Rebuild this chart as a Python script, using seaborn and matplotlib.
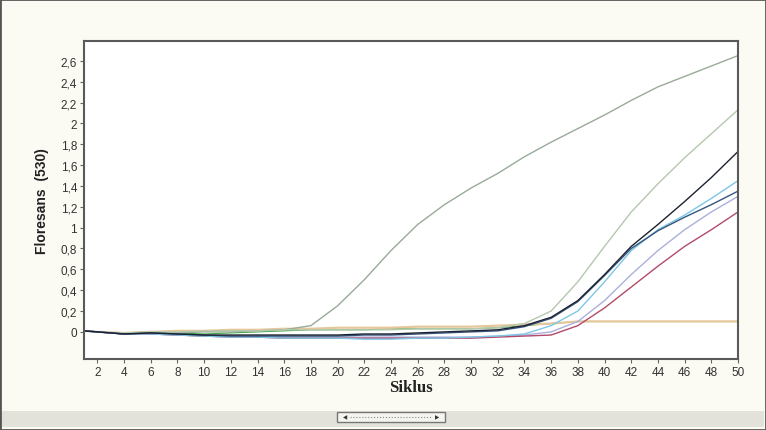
import numpy as np
import pandas as pd
import matplotlib
matplotlib.use("Agg")
import matplotlib.pyplot as plt
from matplotlib.patches import Rectangle
from matplotlib.lines import Line2D
import seaborn as sns

cycles = [1, 2, 4, 6, 8, 10, 12, 14, 16, 18, 20, 22, 24, 26, 28, 30, 32, 34, 36, 38, 40, 42, 44, 46, 48, 50]

s_early = [0.01, 0.00, -0.02, -0.01, -0.01, 0.00, 0.00, 0.01, 0.02, 0.06, 0.25, 0.50, 0.78, 1.03, 1.22, 1.38, 1.52, 1.68, 1.82, 1.95, 2.08, 2.22, 2.35, 2.45, 2.55, 2.65]
s_lightgreen = [0.01, 0.00, -0.01, 0.00, 0.00, 0.01, 0.01, 0.01, 0.02, 0.02, 0.02, 0.02, 0.02, 0.03, 0.03, 0.03, 0.04, 0.08, 0.20, 0.48, 0.82, 1.15, 1.42, 1.67, 1.90, 2.13]
s_black = [0.01, 0.00, -0.02, -0.01, -0.02, -0.03, -0.03, -0.03, -0.03, -0.03, -0.03, -0.02, -0.02, -0.01, 0.00, 0.01, 0.02, 0.06, 0.14, 0.30, 0.55, 0.82, 1.03, 1.25, 1.48, 1.73]
s_darkblue = [0.01, 0.00, -0.02, -0.01, -0.02, -0.03, -0.04, -0.04, -0.04, -0.04, -0.04, -0.03, -0.03, -0.02, -0.01, 0.00, 0.01, 0.05, 0.13, 0.29, 0.54, 0.80, 0.97, 1.10, 1.22, 1.35]
s_lightblue = [0.01, 0.00, -0.02, -0.02, -0.03, -0.04, -0.05, -0.05, -0.06, -0.06, -0.06, -0.07, -0.07, -0.06, -0.06, -0.05, -0.04, -0.02, 0.06, 0.20, 0.48, 0.78, 0.98, 1.12, 1.28, 1.45]
s_lavender = [0.01, 0.00, -0.02, -0.02, -0.03, -0.04, -0.04, -0.05, -0.05, -0.05, -0.05, -0.05, -0.05, -0.05, -0.05, -0.05, -0.04, -0.03, 0.00, 0.10, 0.30, 0.55, 0.78, 0.98, 1.15, 1.30]
s_maroon = [0.01, 0.00, -0.02, -0.02, -0.03, -0.04, -0.05, -0.05, -0.06, -0.06, -0.06, -0.06, -0.06, -0.06, -0.06, -0.06, -0.05, -0.04, -0.03, 0.06, 0.23, 0.43, 0.63, 0.82, 0.98, 1.15]
s_tan = [0.01, 0.00, -0.01, 0.00, 0.01, 0.01, 0.02, 0.02, 0.03, 0.03, 0.04, 0.04, 0.04, 0.05, 0.05, 0.05, 0.06, 0.07, 0.08, 0.10, 0.10, 0.10, 0.10, 0.10, 0.10, 0.10]
s_green = [0.01, 0.00, -0.02, -0.01, -0.01, -0.02, -0.01, 0.00, 0.01, 0.02, 0.02, 0.02, 0.03, 0.03, 0.03, 0.03, 0.04, 0.06, 0.08, 0.10, 0.10, 0.10, 0.10, 0.10, 0.10, 0.10]

series = {
    "C": s_green, "D": s_tan, "A": s_early, "B": s_lightgreen, "E": s_lavender,
    "F": s_maroon, "G": s_lightblue, "H": s_darkblue, "I": s_black,
}
palette = {
    "A": "#98ab98", "B": "#b4c8ae", "C": "#3fa845", "D": "#e6c79c", "E": "#aab0dc",
    "F": "#b24a6a", "G": "#7cc6e6", "H": "#35557f", "I": "#1c2230",
}
widths = {"C": 0.8, "D": 1.6}

yticks = [0, 0.2, 0.4, 0.6, 0.8, 1, 1.2, 1.4, 1.6, 1.8, 2, 2.2, 2.4, 2.6]
ytick_labels = ["0", "0,2", "0,4", "0,6", "0,8", "1", "1,2", "1,4", "1,6", "1,8", "2", "2,2", "2,4", "2,6"]
xticks = list(range(2, 51, 2))

sns.set_theme(style="white")
W, H = 766, 431
fig = plt.figure(figsize=(W / 100, H / 100), dpi=100)
fig.patch.set_facecolor("#fbfbf3")

# outer frame and bottom strip
fig.add_artist(Rectangle((0, 0), 1, 1, transform=fig.transFigure, fill=False,
                         edgecolor="#555555", linewidth=2))
fig.add_artist(Rectangle((2 / W, 3 / H), 1 - 4 / W, 16 / H, transform=fig.transFigure,
                         facecolor="#e2e1da", edgecolor="none"))
fig.add_artist(Rectangle((337 / W, 8 / H), 108 / W, 10 / H, transform=fig.transFigure,
                         facecolor="#f4f4f0", edgecolor="#777777", linewidth=1))
fig.text(343 / W, 13 / H, "\u25c0", fontsize=4, color="#333333", va="center", ha="left")
fig.text(439 / W, 13 / H, "\u25b6", fontsize=4, color="#333333", va="center", ha="right")
fig.add_artist(Line2D([350 / W, 432 / W], [13 / H, 13 / H], transform=fig.transFigure,
                      color="#888888", linewidth=0.8, linestyle=":"))

ax = fig.add_axes([84 / W, (H - 360) / H, (738 - 84) / W, (360 - 42) / H])
ax.set_facecolor("white")
for name, vals in series.items():
    d = pd.DataFrame({"Siklus": cycles, "val": vals})
    sns.lineplot(data=d, x="Siklus", y="val", color=palette[name], ax=ax,
                 linewidth=widths.get(name, 1.0), estimator=None)

ax.set_xlim(1, 50)
ax.set_ylim(-0.26, 2.79)
ax.set_yticks(yticks)
ax.set_yticklabels(ytick_labels)
ax.set_xticks(xticks)
ax.set_xticklabels([str(x) for x in xticks])
ax.set_xticks(range(1, 51), minor=True)
ax.tick_params(axis="both", which="major", direction="out", length=3, width=0.8,
               color="#666666", labelsize=8.5, labelcolor="#333333", pad=2)
ax.tick_params(axis="x", which="minor", direction="out", length=2, width=0.6, color="#888888")
ax.tick_params(bottom=True, left=True)
for lab in ax.get_xticklabels() + ax.get_yticklabels():
    lab.set_family("Liberation Sans")

for sp in ax.spines.values():
    sp.set_color("#5a5a5a")
    sp.set_linewidth(1.5)

ax.set_xlabel("Siklus", fontsize=12, fontweight="bold", family="Liberation Serif", color="#222222", labelpad=1)
ax.set_ylabel("Floresans  (530)", fontsize=10, fontweight="heavy", family="Liberation Sans", color="#222222", labelpad=8)

fig.savefig("out.png", dpi=100, facecolor=fig.get_facecolor())
